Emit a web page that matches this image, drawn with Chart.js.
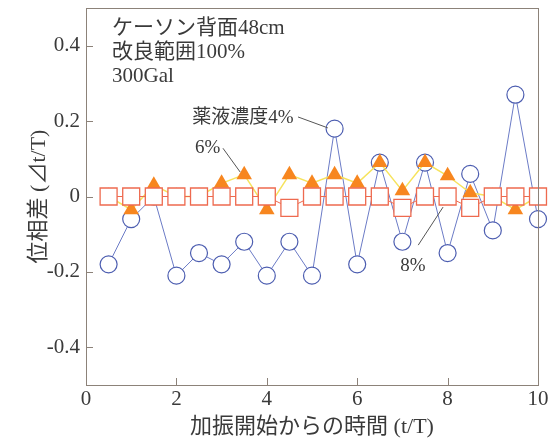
<!DOCTYPE html>
<html>
<head>
<meta charset="utf-8">
<script src="https://cdn.jsdelivr.net/npm/chart.js@4"></script>
<style>
  body { margin: 0; background: #fff; }
</style>
</head>
<body>
<canvas id="phase-chart" width="559" height="440"></canvas>
<script>
// 加振開始からの時間 t/T
const times = [0.5, 1, 1.5, 2, 2.5, 3, 3.5, 4, 4.5, 5, 5.5, 6, 6.5, 7, 7.5, 8, 8.5, 9, 9.5, 10];
// 位相差 for each 薬液濃度
const conc4 = [-0.18, -0.06, 0, -0.21, -0.15, -0.18, -0.12, -0.21, -0.12, -0.21, 0.18, -0.18, 0.09, -0.12, 0.09, -0.15, 0.06, -0.09, 0.27, -0.06];
const conc6 = [0, -0.035, 0.03, 0, 0, 0.035, 0.058, -0.035, 0.058, 0.035, 0.058, 0.035, 0.09, 0.015, 0.09, 0.055, 0.01, 0, -0.035, 0];
const conc8 = [0, 0, 0, 0, 0, 0, 0, 0, -0.03, 0, 0, 0, 0, -0.03, 0, 0, -0.03, 0, 0, 0];

const xTicks = [0, 2, 4, 6, 8, 10];
const yTicks = [-0.4, -0.2, 0, 0.2, 0.4];
const infoLines = ['ケーソン背面48cm', '改良範囲100%', '300Gal'];

const FAMILY = '"Liberation Serif", "Noto Sans CJK JP", serif';
const AXIS_COLOR = '#8c8279';
const TEXT_COLOR = '#3a3a3a';

function toPoints(ys) {
    return times.map((t, i) => ({ x: t, y: ys[i] }));
}

// inward tick marks + frame box
const frameAndTicks = {
    id: 'frameAndTicks',
    afterDraw(chart) {
        const { ctx, chartArea: a, scales } = chart;
        ctx.save();
        ctx.strokeStyle = AXIS_COLOR;
        ctx.lineWidth = 1;
        ctx.strokeRect(a.left + 0.5, a.top + 0.5, a.right - a.left, a.bottom - a.top);
        ctx.beginPath();
        xTicks.forEach(v => {
            const px = Math.round(scales.x.getPixelForValue(v)) + 0.5;
            ctx.moveTo(px, a.bottom);
            ctx.lineTo(px, a.bottom - 7);
        });
        yTicks.forEach(v => {
            const py = Math.round(scales.y.getPixelForValue(v)) + 0.5;
            ctx.moveTo(a.left, py);
            ctx.lineTo(a.left + 7, py);
        });
        ctx.stroke();
        ctx.restore();
    }
};

// notes and leader lines, placed in data units
const notes = [
    { text: '薬液濃度4%', x: 2.35, y: 0.208, size: 19, from: [4.69, 0.211], to: [5.35, 0.182] },
    { text: '6%', x: 2.41, y: 0.129, size: 19, from: [3.03, 0.128], to: [3.41, 0.065] },
    { text: '8%', x: 6.95, y: -0.184, size: 19, from: [7.35, -0.129], to: [7.9, -0.028] }
];

const annotations = {
    id: 'annotations',
    afterDatasetsDraw(chart) {
        const { ctx, scales: { x, y } } = chart;
        ctx.save();
        ctx.fillStyle = TEXT_COLOR;
        ctx.textBaseline = 'middle';
        ctx.textAlign = 'left';

        ctx.font = '21px ' + FAMILY;
        infoLines.forEach((line, i) => {
            ctx.fillText(line, x.getPixelForValue(0.575), y.getPixelForValue(0.445 - i * 0.0635));
        });

        notes.forEach(n => {
            ctx.font = n.size + 'px ' + FAMILY;
            ctx.fillText(n.text, x.getPixelForValue(n.x), y.getPixelForValue(n.y));
            ctx.beginPath();
            ctx.strokeStyle = '#555';
            ctx.lineWidth = 1;
            ctx.moveTo(x.getPixelForValue(n.from[0]), y.getPixelForValue(n.from[1]));
            ctx.lineTo(x.getPixelForValue(n.to[0]), y.getPixelForValue(n.to[1]));
            ctx.stroke();
        });
        ctx.restore();
    }
};

new Chart(document.getElementById('phase-chart'), {
    type: 'line',
    data: {
        datasets: [
            {
                label: '8%',
                data: toPoints(conc8),
                order: 0,
                clip: false,
                borderColor: '#ee6a4f',
                borderWidth: 1,
                pointStyle: 'rect',
                pointRadius: 12,
                pointBorderWidth: 1.3,
                pointBorderColor: '#ee6a4f',
                pointBackgroundColor: '#ffffff',
                tension: 0
            },
            {
                label: '6%',
                data: toPoints(conc6),
                order: 1,
                clip: false,
                borderColor: '#f6e35c',
                borderWidth: 1.5,
                pointStyle: 'triangle',
                pointRadius: 9,
                pointBorderWidth: 0,
                pointBackgroundColor: '#f7861f',
                tension: 0
            },
            {
                label: '4%',
                data: toPoints(conc4),
                order: 2,
                clip: false,
                borderColor: '#6b7bc6',
                borderWidth: 1,
                pointStyle: 'circle',
                pointRadius: 8.5,
                pointBorderWidth: 1.2,
                pointBorderColor: '#4c5db0',
                pointBackgroundColor: '#ffffff',
                tension: 0
            }
        ]
    },
    options: {
        responsive: false,
        animation: false,
        layout: { autoPadding: false, padding: { top: 8, right: 21, left: 0, bottom: 0 } },
        plugins: {
            legend: { display: false },
            tooltip: { enabled: false }
        },
        scales: {
            x: {
                type: 'linear',
                min: 0,
                max: 10,
                afterBuildTicks: s => { s.ticks = xTicks.map(v => ({ value: v })); },
                afterFit: s => {
                    s.height = 55;
                    s.paddingLeft = 0;
                    s.paddingRight = 0;
                },
                grid: { display: false, drawTicks: false, tickLength: 0 },
                border: { display: false },
                ticks: {
                    color: TEXT_COLOR,
                    padding: 2,
                    maxRotation: 0,
                    font: { family: FAMILY, size: 21 }
                },
                title: {
                    display: true,
                    text: '加振開始からの時間 (t/T)',
                    color: TEXT_COLOR,
                    padding: { top: 0, bottom: 0 },
                    font: { family: FAMILY, size: 22 }
                }
            },
            y: {
                min: -0.5,
                max: 0.5,
                afterBuildTicks: s => { s.ticks = yTicks.map(v => ({ value: v })); },
                afterFit: s => {
                    s.width = 86;
                    s.paddingTop = 0;
                    s.paddingBottom = 0;
                },
                grid: { display: false, drawTicks: false, tickLength: 0 },
                border: { display: false },
                ticks: {
                    color: TEXT_COLOR,
                    padding: 6,
                    callback: v => String(v),
                    font: { family: FAMILY, size: 21 }
                },
                title: {
                    display: true,
                    text: '位相差 (⊿t/T)',
                    color: TEXT_COLOR,
                    padding: { top: 26, bottom: 0 },
                    font: { family: FAMILY, size: 22 }
                }
            }
        }
    },
    plugins: [frameAndTicks, annotations]
});
</script>
</body>
</html>
